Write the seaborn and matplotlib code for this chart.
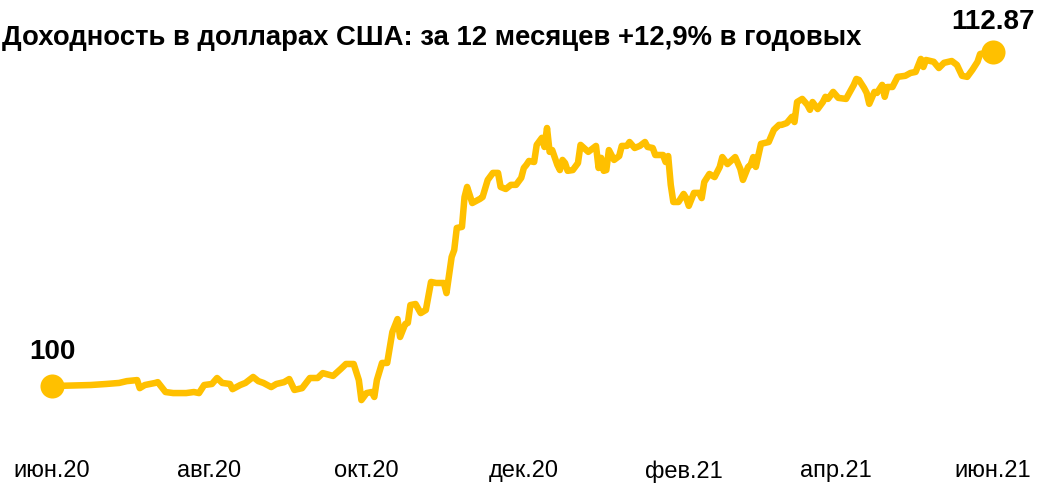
import pandas as pd
import matplotlib.pyplot as plt
import seaborn as sns

# index value (start = 100), days counted from 1 June 2020
days = [0, 15, 21, 26, 29, 33, 34, 36, 40, 41, 44, 47, 52, 55, 57, 59, 62, 64, 66, 69,
        70, 73, 75, 78, 80, 82, 85, 87, 90, 92, 94, 97, 100, 103, 105, 109, 112, 114, 117, 119,
        120, 122, 124, 125, 126, 128, 130, 132, 134, 135, 137, 138, 139, 141, 143, 145, 147, 149, 152, 153,
        155, 156, 157, 159, 160, 161, 163, 166, 167, 169, 171, 173, 174, 176, 178, 180, 182, 183, 184, 185,
        187, 188, 190, 191, 192, 193, 194, 196, 197, 198, 199, 200, 202, 204, 205, 208, 211, 212, 213, 214,
        215, 216, 218, 220, 221, 223, 224, 226, 228, 230, 231, 233, 234, 237, 238, 239, 240, 241, 243, 245,
        246, 247, 249, 251, 252, 253, 255, 257, 259, 260, 262, 265, 267, 268, 270, 271, 272, 273, 275, 278,
        280, 282, 283, 285, 287, 288, 289, 291, 293, 294, 295, 297, 299, 300, 301, 303, 305, 308, 311, 312,
        313, 315, 316, 317, 319, 320, 322, 323, 324, 326, 328, 331, 333, 335, 337, 338, 339, 342, 344, 346,
        349, 351, 353, 355, 357, 359, 360, 362, 365]
values = [100.00, 100.04, 100.08, 100.12, 100.19, 100.23, 99.92, 100.04, 100.12, 100.15, 99.77, 99.73, 99.73, 99.77, 99.73, 100.04, 100.08, 100.31, 100.12, 100.08,
          99.88, 100.04, 100.12, 100.35, 100.19, 100.12, 99.96, 100.08, 100.15, 100.27, 99.85, 99.92, 100.31, 100.31, 100.50, 100.39, 100.66, 100.85, 100.85, 100.23,
          99.46, 99.73, 99.77, 99.58, 100.23, 100.89, 100.89, 102.08, 102.58, 101.89, 102.39, 102.43, 103.12, 103.16, 102.81, 102.93, 104.01, 103.97, 103.97, 103.58,
          104.97, 105.24, 106.09, 106.13, 107.28, 107.67, 107.05, 107.21, 107.28, 107.94, 108.21, 108.21, 107.67, 107.59, 107.75, 107.75, 108.02, 108.40, 108.52, 108.67,
          108.63, 109.29, 109.56, 109.21, 109.94, 109.02, 109.09, 108.52, 108.32, 108.71, 108.59, 108.29, 108.32, 108.59, 109.29, 109.02, 109.25, 108.40, 108.79, 108.29,
          108.32, 109.09, 108.71, 108.86, 109.25, 109.25, 109.40, 109.17, 109.25, 109.40, 109.21, 109.17, 108.90, 108.90, 108.63, 108.86, 107.75, 107.09, 107.09, 107.40,
          107.24, 106.94, 107.44, 107.44, 107.24, 107.86, 108.17, 108.05, 108.44, 108.82, 108.55, 108.82, 108.36, 107.94, 108.44, 108.52, 108.82, 108.44, 109.33, 109.40,
          109.87, 110.06, 110.06, 110.13, 110.37, 110.17, 110.94, 111.06, 110.83, 110.64, 110.94, 110.67, 110.94, 111.14, 111.06, 111.33, 111.10, 111.06, 111.60, 111.83,
          111.79, 111.48, 111.29, 110.87, 111.33, 111.29, 111.60, 111.14, 111.52, 111.52, 111.91, 111.95, 112.06, 112.10, 112.60, 112.29, 112.56, 112.49, 112.25, 112.45,
          112.52, 112.37, 111.95, 111.91, 112.18, 112.49, 112.79, 112.83, 112.87]

tick_dates = ['2020-06-01', '2020-08-01', '2020-10-01', '2020-12-01', '2021-02-01', '2021-04-01', '2021-06-01']
tick_labels = ['июн.20', 'авг.20', 'окт.20', 'дек.20', 'фев.21', 'апр.21', 'июн.21']
title = 'Доходность в долларах США: за 12 месяцев +12,9% в годовых'
gold = '#FFC000'

start = pd.Timestamp('2020-06-01')
df = pd.DataFrame({'date': start + pd.to_timedelta(days, unit='D'), 'value': values})
ends = df.iloc[[0, -1]]

sns.set_style('white')
plt.rcParams['font.family'] = ['Liberation Sans', 'DejaVu Sans']
plt.rcParams['text.color'] = 'black'
plt.rcParams['xtick.color'] = 'black'

fig = plt.figure(figsize=(10.43, 4.86), dpi=100)
ax = fig.add_axes([0, 34 / 486, 1, 452 / 486])

sns.lineplot(data=df, x='date', y='value', color=gold, linewidth=4.7,
             solid_joinstyle='round', solid_capstyle='round', ax=ax)
sns.scatterplot(data=ends, x='date', y='value', color=gold, s=300, linewidth=0, ax=ax, zorder=3)

ax.set_xlim(start - pd.Timedelta(days=20.2), start + pd.Timedelta(days=384.4))
ax.set_ylim(97.46, 114.87)
ax.set_xticks(pd.to_datetime(tick_dates))
ax.set_xticklabels(tick_labels, fontsize=17)
ax.tick_params(axis='x', length=0, pad=6)
ax.set_yticks([])
ax.set_xlabel('')
ax.set_ylabel('')
sns.despine(ax=ax, left=True, bottom=True)

# end labels
ax.annotate('100', (ends['date'].iloc[0], ends['value'].iloc[0]), xytext=(0, 15),
            textcoords='offset points', ha='center', va='bottom', fontsize=20, fontweight='bold')
ax.annotate('112.87', (ends['date'].iloc[1], ends['value'].iloc[1]), xytext=(0, 12),
            textcoords='offset points', ha='center', va='bottom', fontsize=20, fontweight='bold')

fig.text(0.002, 1 - 38 / 486, title, ha='left', va='center', fontsize=19.8, fontweight='bold')

fig.savefig('out.png', dpi=100)
